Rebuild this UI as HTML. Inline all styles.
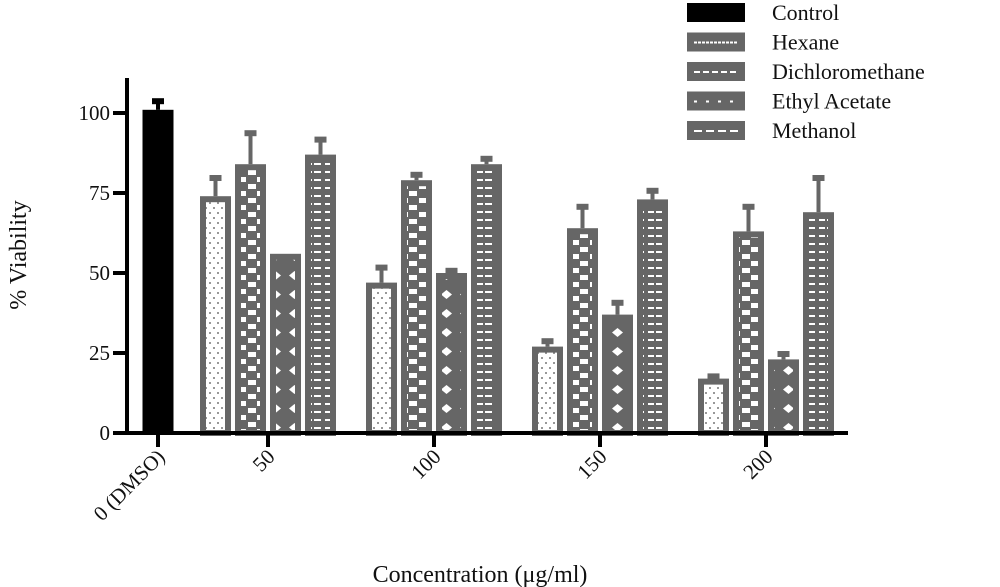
<!DOCTYPE html>
<html><head><meta charset="utf-8"><style>
html,body{margin:0;padding:0;background:#fff;width:1000px;height:587px;overflow:hidden}
text{font-family:"Liberation Serif",serif;fill:#111}
</style></head><body>
<svg id="chart" width="1000" height="587" viewBox="0 0 1000 587" xmlns="http://www.w3.org/2000/svg">
<defs>
<pattern id="p-hex" width="8" height="10" patternUnits="userSpaceOnUse"><rect width="8" height="10" fill="#fff"/><circle cx="2" cy="3" r="1" fill="#777"/><circle cx="6" cy="8" r="1" fill="#777"/></pattern>
<pattern id="p-dcm" width="19" height="14" patternUnits="userSpaceOnUse"><rect width="19" height="14" fill="#666"/><rect x="1" y="2" width="8" height="5" fill="#fff"/><rect x="10" y="9" width="8" height="5" fill="#fff"/></pattern>
<pattern id="p-ea" width="19" height="19" patternUnits="userSpaceOnUse"><rect width="19" height="19" fill="#666"/><polygon points="9.5,5 15,9.5 9.5,14 4,9.5" fill="#fff"/></pattern>
<pattern id="p-meoh" width="19" height="8" patternUnits="userSpaceOnUse"><rect width="19" height="8" fill="#666"/><rect x="2" y="3" width="6" height="2" fill="#fff"/><rect x="10" y="3" width="7" height="2" fill="#fff"/></pattern>
</defs>
<g id="bars"></g>
<g id="axes"></g>
<text transform="translate(26,255) rotate(-90)" text-anchor="middle" font-size="24">% Viability</text>
<text x="480" y="582" text-anchor="middle" font-size="24">Concentration (μg/ml)</text>
<g id="legend"></g>
</svg>
<script>
const groups = ["0 (DMSO)", "50", "100", "150", "200"];
const seriesNames = ["Control", "Hexane", "Dichloromethane", "Ethyl Acetate", "Methanol"];
const controlValue = [101];
const controlErr = [3];
const hexane = [74, 47, 27, 17];
const hexaneErr = [6, 5, 2, 1];
const dcm = [84, 79, 64, 63];
const dcmErr = [10, 2, 7, 8];
const ethylAcetate = [56, 50, 37, 23];
const ethylAcetateErr = [0, 1, 4, 2];
const methanol = [87, 84, 73, 69];
const methanolErr = [5, 2, 3, 11];
const yTicks = [0, 25, 50, 75, 100];

const NS = "http://www.w3.org/2000/svg";
const y = v => 433 - v * 3.2;
const gx = i => 158 + (i === 0 ? 0 : 110 + (i - 1) * 166);
function mk(tag, attrs, parent) { const e = document.createElementNS(NS, tag); for (const k in attrs) e.setAttribute(k, attrs[k]); parent.appendChild(e); return e; }
const bars = document.getElementById('bars'), axes = document.getElementById('axes'), legend = document.getElementById('legend');
const BW = 31;
function errBar(cx, v, e, color) {
  const g = mk('g', {}, bars);
  
  
  mk('line', {x1: cx, x2: cx, y1: y(v), y2: y(v + e) + 2, stroke: color, 'stroke-width': 4}, g);
  mk('rect', {x: cx - 6, y: y(v + e) - 2, width: 12, height: 6, fill: color}, g);
}
// control
{
  const cx = gx(0), v = controlValue[0];
  errBar(cx, v, controlErr[0], '#000');
  const r = mk('rect', {x: cx - BW / 2, y: y(v), width: BW, height: y(0) - y(v), fill: '#000'}, bars);
  
  
}
const series = [[hexane, hexaneErr, 'p-hex', 'hexane'], [dcm, dcmErr, 'p-dcm', 'dichloromethane'], [ethylAcetate, ethylAcetateErr, 'p-ea', 'ethyl-acetate'], [methanol, methanolErr, 'p-meoh', 'methanol']];
series.forEach((s, si) => {
  s[0].forEach((v, i) => {
    const cx = gx(i + 1) + (si - 1.5) * 35;
    if (s[1][i] > 0) errBar(cx, v, s[1][i], '#666');
    const r = mk('rect', {x: cx - BW / 2 + 3, y: y(v) + 3, width: BW - 6, height: y(0) - y(v) - 3, fill: 'url(#' + s[2] + ')', stroke: '#666', 'stroke-width': 6}, bars);
    
    
  });
});
// axes
mk('line', {x1: 127, x2: 127, y1: 78, y2: 435, stroke: '#000', 'stroke-width': 4}, axes);
mk('line', {x1: 113, x2: 848, y1: 433, y2: 433, stroke: '#000', 'stroke-width': 4}, axes);
yTicks.forEach(t => {
  mk('line', {x1: 113, x2: 127, y1: y(t), y2: y(t), stroke: '#000', 'stroke-width': 4}, axes);
  const tx = mk('text', {x: 110, y: y(t) + 7, 'text-anchor': 'end', 'font-size': 21}, axes);
  tx.textContent = t;
  
  
});
groups.forEach((g, i) => {
  const x = gx(i);
  mk('line', {x1: x, x2: x, y1: 433, y2: 447, stroke: '#000', 'stroke-width': 4}, axes);
  const tx = mk('text', {transform: 'translate(' + (x + 8) + ',458) rotate(-45)', 'text-anchor': 'end', 'font-size': 21}, axes);
  tx.textContent = g;
  
  
});
// legend
const legFills = ['#000', '#666', '#666', '#666', '#666'];
seriesNames.forEach((n, i) => {
  const yy = 3 + i * 29.5;
  const g = mk('g', {}, legend);
  
  
  mk('rect', {x: 687, y: yy, width: 58, height: 19, fill: legFills[i]}, g);
  if (i > 0) mk('line', {x1: 694, x2: 738, y1: yy + 10, y2: yy + 10, stroke: '#fff', 'stroke-width': 2, 'stroke-dasharray': i === 1 ? '3 1' : i === 2 ? '6 3' : i === 3 ? '3 9' : '8 4'}, g);
  const t = mk('text', {x: 772, y: yy + 17, 'font-size': 22}, g);
  t.textContent = n;
});
</script>
</body></html>
